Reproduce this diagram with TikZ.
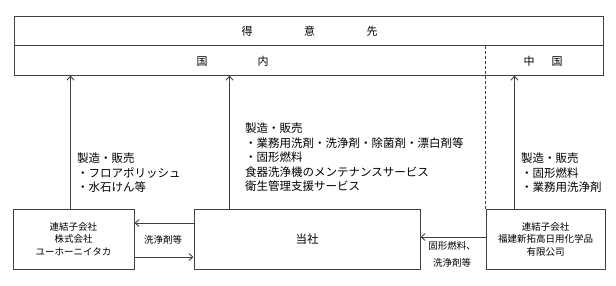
\documentclass[tikz,border=0pt]{standalone}
\usepackage{fontspec}
\setmainfont{Noto Sans CJK JP}
\usetikzlibrary{positioning, arrows.meta}
\colorlet{rule}{black!75}
\tikzset{
  > = {Straight Barb[length = 4pt, width = 7pt]},   % open barbs
  panel/.style = {draw = rule, line width = 1pt, inner sep = 0pt},
  company/.style = {panel, align = center, minimum height = 60pt,
    font = \fontsize{9.5}{12.5}\selectfont},
  heading/.style = {inner sep = 0pt, font = \fontsize{11}{13}\selectfont},
  products/.style = {inner sep = 0pt, anchor = north west, align = left,
    font = \fontsize{11.5}{14.5}\selectfont},
  flow/.style = {->, draw = rule, line width = 0.9pt},
  goods/.style = {inner sep = 0pt, align = center,
    font = \fontsize{9.5}{16.5}\selectfont},
  divider/.style = {draw = rule, densely dashed, line width = 0.9pt}
}
\def \gap {59pt}

\begin{document}
\begin{tikzpicture}[x = 1pt, y = -1pt]
\useasboundingbox (0,0) rectangle (616,285);

%% Customers
\node [panel, minimum width = 589pt, minimum height = 29pt] (customer) at (308.5,30.5) {};
\node [panel, minimum width = 589pt, minimum height = 30pt] (market) at (308.5,60) {};
\node [heading] (title) at (309.5,31) {得\hspace{51.5pt}意\hspace{51.5pt}先};
\node [heading] (domestic) at (232.5,61) {国\hspace{50pt}内};
\node [heading] (china) at (543,61) {中\hspace{17pt}国};

%% Companies
\node [company, minimum width = 121pt] (yuho) at (73.5,239) {連結子会社\\株式会社\\ユーホーニイタカ};
\node [company, minimum width = 226pt, font = \fontsize{11.5}{14}\selectfont,
  right = \gap of yuho] (tosha) {当社};
\node [company, minimum width = 119pt, right = 65pt of tosha] (fukken)
  {連結子会社\\福建新拓高日用化学品\\有限公司};

%% Products
\node [products] (local) at (77,153) {製造・販売\\・フロアポリッシュ\\・水石けん等};
\node [products] (own) at (245,123) {製造・販売\\・業務用洗剤・洗浄剤・除菌剤・漂白剤等\\・固形燃料\\食器洗浄機のメンテナンスサービス\\衛生管理支援サービス};
\node [products] (export) at (521,153) {製造・販売\\・固形燃料\\・業務用洗浄剤};

%% Sales to customers
\foreach \src/\dx in {yuho/58, tosha/36, fukken/29}
  \draw [flow] ([xshift = \dx pt] \src.north west) -- ([xshift = \dx pt] \src.north west |- market.south);

%% Separator
\draw [divider] (fukken.north west) -- (fukken.north west |- market.north);

%% Trade between companies
\draw [flow] ([yshift = 16pt] tosha.west) -- ([yshift = 16pt] yuho.east);
\draw [flow] ([yshift = -18pt] yuho.east) -- ([yshift = -18pt] tosha.west);
\draw [flow] ([yshift = 2pt] fukken.west) -- ([yshift = 2pt] tosha.east);
\node [goods] (detergent) at (163,240) {洗浄剤等};
\node [goods] (fuel) at (452,254.5) {固形燃料、\\洗浄剤等};

\end{tikzpicture}
\end{document}
